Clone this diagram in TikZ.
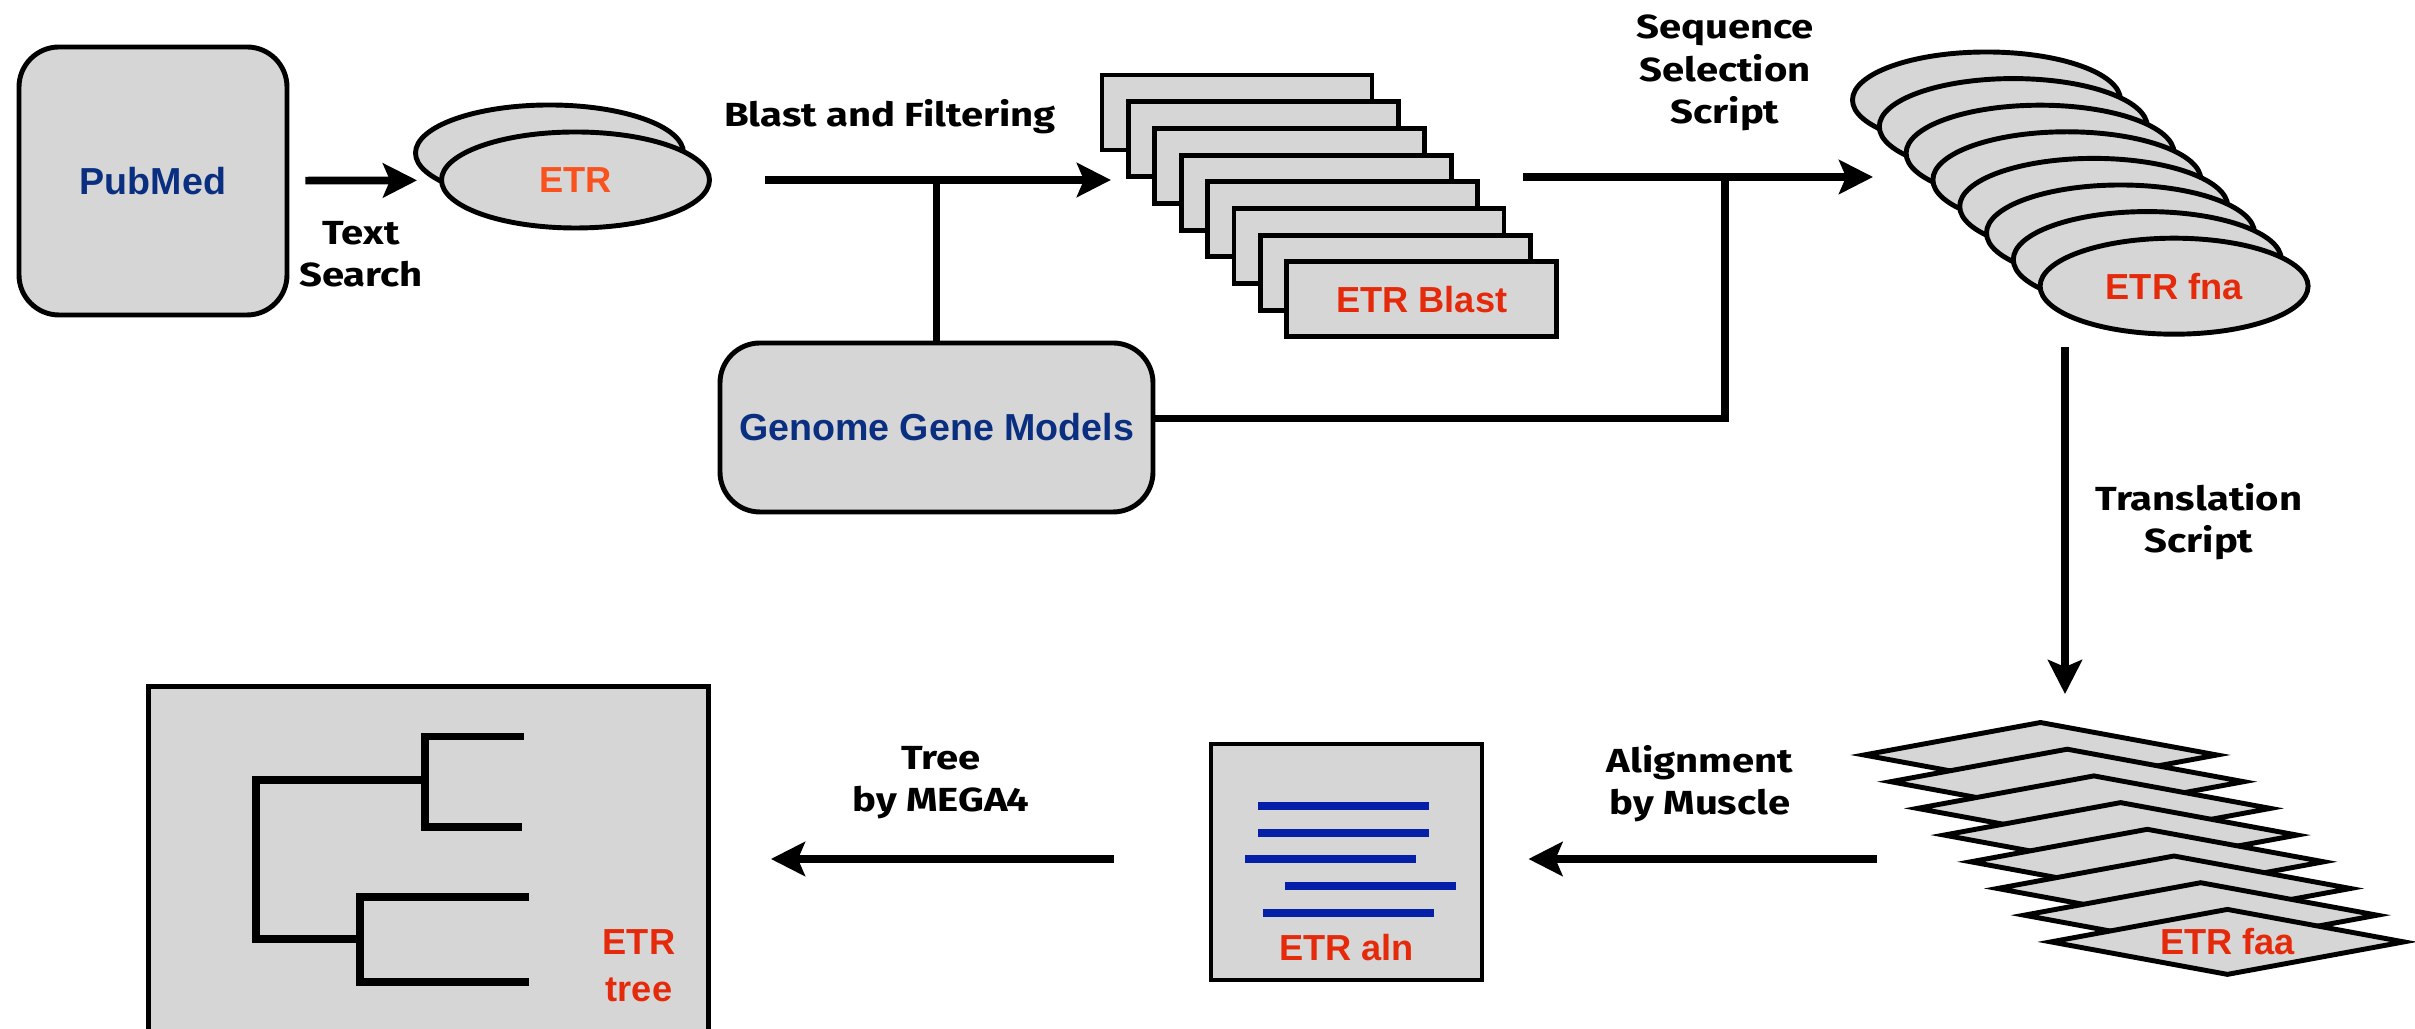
\documentclass[tikz,border=0pt]{standalone}
\usepackage{fontspec}
\setmainfont{Liberation Sans}
\newfontfamily\stepfont[FakeStretch=1.2]{Fira Sans}
\usetikzlibrary{arrows.meta,shapes.geometric}
\definecolor{boxgray}{HTML}{D6D6D6}
\definecolor{nodeblue}{HTML}{0B2F80}
\definecolor{etrred}{HTML}{E42A0A}
\definecolor{etrorange}{HTML}{F9521E}
\definecolor{alnblue}{HTML}{0520A8}

\begin{document}
\begin{tikzpicture}[line join=miter,>={Stealth[length=0.34cm,width=0.34cm,inset=0.07cm]},
    font=\fontsize{10.7}{12.8}\selectfont\bfseries,
    box/.style={draw,line width=1.4pt,fill=boxgray},
    dbbox/.style={box,rounded corners=0.4cm,text=nodeblue},
    etrtext/.style={text=etrred,font=\fontsize{10.3}{13.4}\selectfont\bfseries},
    blastbox/.style={box,minimum width=2.7cm,minimum height=0.75cm,inner sep=0pt},
    fnaoval/.style={box,ellipse,minimum width=2.68cm,minimum height=0.96cm,inner sep=0pt},
    faaflat/.style={box,diamond,aspect=5.3,minimum width=3.55cm,minimum height=0.67cm,inner sep=0pt},
    steplabel/.style={font=\stepfont\bfseries\fontsize{9.5}{12}\selectfont,align=center},
    flow/.style={->,line width=2.2pt},
    feed/.style={line width=2pt},
    treeline/.style={line width=2.2pt},
    alnline/.style={line width=2.4pt,alnblue}]
    \useasboundingbox (0,0) rectangle (24.15,-10.29);

    \node[dbbox,minimum width=2.68cm,minimum height=2.68cm] (pubmed) at (1.53,-1.81) {PubMed};
    \node[fnaoval] (etrback) at (5.495,-1.53) {};
    \node[fnaoval,etrtext,text=etrorange] (etr) at (5.755,-1.80) {ETR};
    \node[dbbox,minimum width=4.33cm,minimum height=1.69cm] (genome) at (9.365,-4.275) {Genome Gene Models};

    \foreach \i in {0,...,6}
        \node[blastbox] (b\i) at (12.37+0.264*\i,-1.125-0.267*\i) {};
    \node[blastbox,etrtext] (b7) at (14.218,-2.994) {ETR Blast};

    \foreach \i in {0,...,6}
        \node[fnaoval] (f\i) at (19.865+0.268*\i,-1.00-0.266*\i) {};
    \node[fnaoval,etrtext] (f7) at (21.741,-2.862) {ETR fna};

    \foreach \i in {0,...,6}
        \node[faaflat] (a\i) at (20.405+0.267*\i,-7.55-0.267*\i) {};
    \node[faaflat,etrtext] (a7) at (22.274,-9.419) {ETR faa};

    \node[box,minimum width=2.71cm,minimum height=2.36cm] (aln) at (13.465,-8.62) {};
    \foreach \x/\y in {-0.885/0.56,-0.885/0.29,-1.015/0.03,-0.615/-0.24,-0.835/-0.51}
        \draw[alnline] ([shift={(\x,\y)}]aln.center) -- ++(1.71,0);
    \node[etrtext] (alnlabel) at ([yshift=0.35cm]aln.south) {ETR aln};

    \node[box,minimum width=5.6cm,minimum height=3.6cm,anchor=north west] (tree) at (1.46,-6.84) {};
    \draw[treeline] (5.24,-7.365) -- (4.25,-7.365) -- (4.25,-8.27) -- (5.22,-8.27);
    \draw[treeline] (4.25,-7.80) -- (2.56,-7.80) -- (2.56,-9.39) -- (3.60,-9.39);
    \draw[treeline] (5.29,-8.97) -- (3.60,-8.97) -- (3.60,-9.82) -- (5.29,-9.82);
    \node[etrtext,align=center] (treelabel) at (6.39,-9.66) {ETR\\tree};

    \coordinate (seqstart) at (15.23,-1.77);
    \coordinate (transtop) at (20.65,-3.47);
    \coordinate (alnstart) at (18.77,-8.59);

    \draw[flow,shorten <=0.16cm,shorten >=0.22cm] (pubmed) -- (etr);
    \draw[flow,shorten <=0.53cm] (etr.east) -- ([xshift=-0.15cm]etr.east -| b1.west);
    \draw[feed] (genome.north) -- (genome.north |- etr.east);
    \draw[flow] (seqstart) -- ([xshift=0.23cm]seqstart -| f0.west);
    \draw[feed] ([yshift=0.09cm]genome.east) -| ([xshift=2.02cm]seqstart);
    \draw[flow,shorten >=0.25cm] (transtop) -- (transtop |- a0.north);
    \draw[flow,shorten >=0.44cm] (alnstart) -- (alnstart -| aln.east);
    \draw[flow,shorten <=0.95cm,shorten >=0.60cm] (aln.west |- alnstart) -- (alnstart -| tree.east);

    \node[steplabel] (searchlabel) at (3.61,-2.54) {Text\\Search};
    \node[steplabel] (blastlabel) at (8.90,-1.17) {Blast and Filtering};
    \node[steplabel] (seqlabel) at (17.25,-0.73) {Sequence\\Selection\\Script};
    \node[steplabel] (translabel) at (21.99,-5.22) {Translation\\Script};
    \node[steplabel] (musclelabel) at (17.00,-7.84) {Alignment\\by Muscle};
    \node[steplabel] (megalabel) at (9.41,-7.83) {Tree\\by MEGA4};
\end{tikzpicture}
\end{document}
